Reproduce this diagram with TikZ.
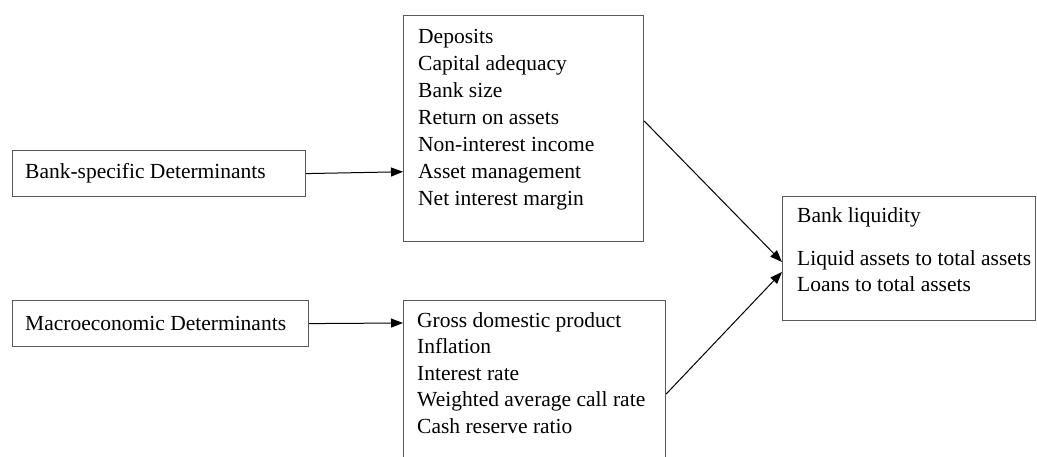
\documentclass[tikz,border=0pt]{standalone}
\usepackage{fontspec}
\setmainfont{Liberation Serif}
\usetikzlibrary{arrows.meta,calc}

\tikzset{
  frame/.style={draw=black!65, line width=1.2pt, anchor=north west, inner sep=0pt},
  items/.style={anchor=north west, align=left, inner sep=0pt, font=\fontsize{21.5}{27}\selectfont},
  link/.style={-{Triangle[length=12pt,width=9pt]}, line width=1pt}
}

\begin{document}
\begin{tikzpicture}[x=1pt,y=-1pt]
\useasboundingbox (0,0) rectangle (1037,457);

% determinants on the left
\node[frame, minimum width=293pt, minimum height=46pt] (bankdet) at (12,150) {};
\node[items, anchor=west] (bankdettxt) at (25,173) {Bank-specific Determinants};
\node[frame, minimum width=296pt, minimum height=46pt] (macrodet) at (12,300) {};
\node[items, anchor=west] (macrodettxt) at (25,323) {Macroeconomic Determinants};

% variables in the middle
\node[frame, minimum width=240pt, minimum height=226pt] (bankvar) at (403,15) {};
\node[items] (bankvartxt) at (418,29) {Deposits\\Capital adequacy\\Bank size\\Return on assets\\Non-interest income\\Asset management\\Net interest margin};
\node[frame, minimum width=262pt, minimum height=180pt] (macrovar) at (403,300) {};
\node[items, font=\fontsize{21.5}{26.5}\selectfont] (macrovartxt) at (417,312) {Gross domestic product\\Inflation\\Interest rate\\Weighted average call rate\\Cash reserve ratio};

% outcome
\node[frame, minimum width=253pt, minimum height=124pt] (liq) at (782,196) {};
\node[items, font=\fontsize{21.5}{26}\selectfont] (liqtxt) at (797,207.5) {Bank liquidity\\[17pt]Liquid assets to total assets\\Loans to total assets};

\draw[link] (bankdet.east) -- ($(bankvar.north west)!0.69!(bankvar.south west)$);
\draw[link] (macrodet.east) -- ($(macrovar.north west)+(0,23)$);
\draw[link] ($(bankvar.north east)+(0,106)$) -- ($(liq.north west)+(0,66)$);
\draw[link] ($(macrovar.north east)+(0,94)$) -- ($(liq.north west)+(0,76)$);
\end{tikzpicture}
\end{document}
